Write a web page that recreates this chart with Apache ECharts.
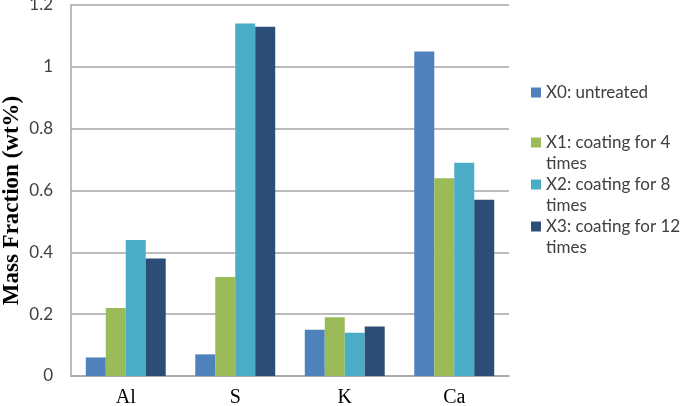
<!DOCTYPE html>
<html><head><meta charset="utf-8">
<script src="https://cdn.jsdelivr.net/npm/echarts@6/dist/echarts.min.js"></script>
<style>html,body{margin:0;padding:0;background:#fff}#c{width:685px;height:406px}</style>
</head><body><div id="c"></div>
<script>
const categories = ['Al', 'S', 'K', 'Ca'];
const seriesNames = ['X0: untreated', 'X1: coating for 4 times', 'X2: coating for 8 times', 'X3: coating for 12 times'];
const x0 = [0.06, 0.07, 0.15, 1.05];
const x1 = [0.22, 0.32, 0.19, 0.64];
const x2 = [0.44, 1.14, 0.14, 0.69];
const x3 = [0.38, 1.13, 0.16, 0.57];
const yTicks = [0, 0.2, 0.4, 0.6, 0.8, 1, 1.2];
const legendLabels = ['X0: untreated', ' \nX1: coating for 4\ntimes', ' \nX2: coating for 8\ntimes', ' \nX3: coating for 12\ntimes'];

const colors = ['#4F81BD', '#9BBB59', '#4BACC6', '#2C4D75'];
const values = [x0, x1, x2, x3];
const legendTops = [82, 111, 153, 195];

const chart = echarts.init(document.getElementById('c'), null, {renderer: 'canvas'});
chart.setOption({
  animation: false,
  grid: {left: 71, right: 176, top: 5, bottom: 30, containLabel: false, outerBoundsMode: 'none'},
  xAxis: {
    type: 'category', data: categories,
    axisLine: {lineStyle: {color: '#A6A6A6', width: 1.5}},
    axisTick: {show: false},
    axisLabel: {fontFamily: 'Liberation Serif', fontSize: 20, color: '#000', margin: 12}
  },
  yAxis: {
    type: 'value', min: yTicks[0], max: yTicks[yTicks.length - 1], interval: 0.2,
    name: 'Mass Fraction (wt%)', nameLocation: 'middle', nameGap: 47, nameMoveOverlap: false,
    nameTextStyle: {fontFamily: 'Liberation Serif', fontWeight: 'bold', fontSize: 23, color: '#000',
      padding: [0, 20, 0, 0]},
    axisLine: {show: true, lineStyle: {color: '#A6A6A6', width: 1.5}},
    axisTick: {show: false},
    splitLine: {lineStyle: {color: '#A6A6A6', width: 1.5}},
    axisLabel: {fontFamily: 'Lato', fontSize: 17, color: '#404040', margin: 18,
      formatter: v => String(Math.round(v * 10) / 10)}
  },
  legend: seriesNames.map((n, i) => ({
    data: [n], orient: 'vertical', left: 531, top: legendTops[i], padding: 0,
    itemWidth: 10, itemHeight: 10, icon: 'rect', itemGap: 0,
    textStyle: {fontFamily: 'Lato', fontSize: 17, color: '#404040', lineHeight: 21},
    formatter: () => legendLabels[i]
  })),
  series: seriesNames.map((n, i) => ({
    name: n, type: 'bar', data: values[i],
    barGap: '0%', barCategoryGap: '27%',
    itemStyle: {color: colors[i]}
  }))
});
</script></body></html>
